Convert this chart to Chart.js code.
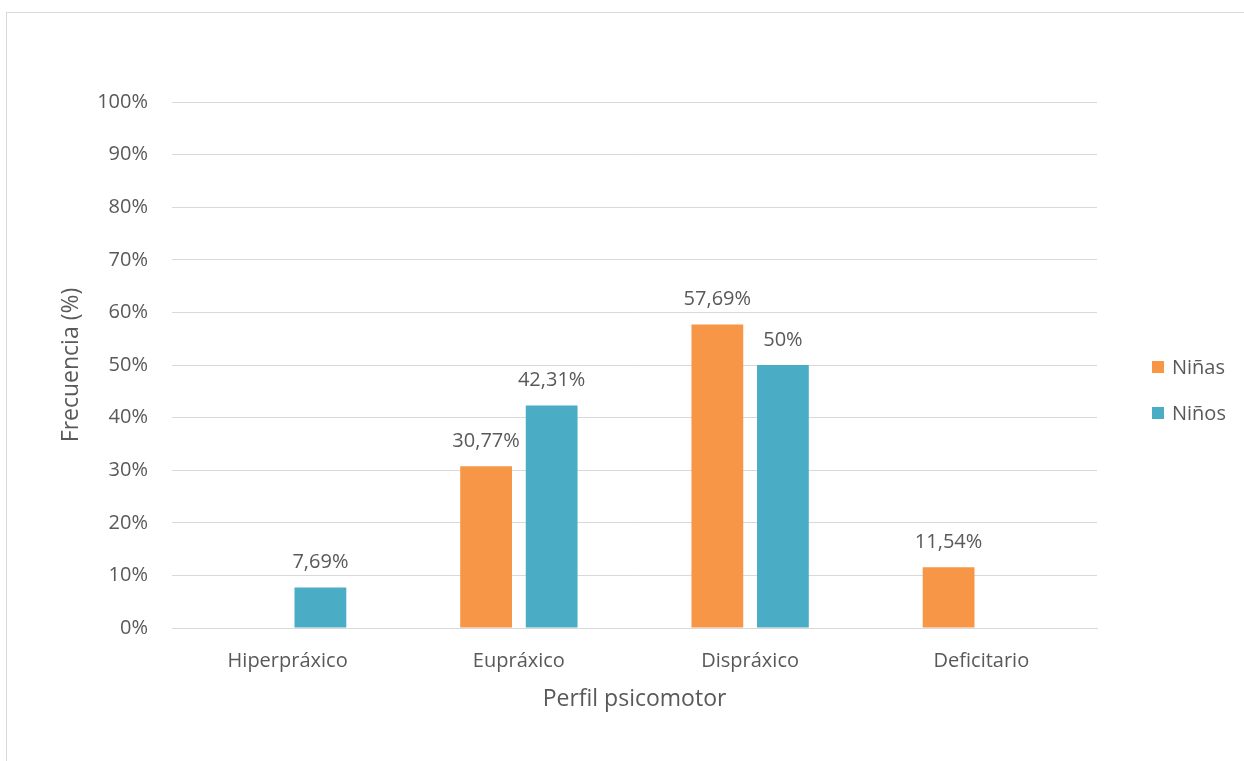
<!DOCTYPE html>
<html lang="es">
<head>
<meta charset="utf-8">
<title>Perfil psicomotor</title>
<script src="https://cdn.jsdelivr.net/npm/chart.js@4/dist/chart.umd.min.js"></script>
<style>
  html, body { margin: 0; padding: 0; background: #ffffff; overflow: hidden; }
  #frame {
    position: absolute; left: 6px; top: 12px;
    width: 1400px; height: 900px;
    border: 1px solid #d9d9d9; box-sizing: border-box;
  }
  #wrap { position: absolute; left: 0; top: 0; width: 1244px; height: 761px; }
</style>
</head>
<body>
<div id="frame"></div>
<div id="wrap"><canvas id="chart" width="1244" height="761"></canvas></div>
<script>
// Categories and series values (percent)
const categories = ['Hiperpráxico', 'Eupráxico', 'Dispráxico', 'Deficitario'];
const ninas = [null, 30.77, 57.69, 11.54];
const ninos = [7.69, 42.31, 50, null];
const seriesNames = ['Niñas', 'Niños'];
const yTicks = [0, 10, 20, 30, 40, 50, 60, 70, 80, 90, 100];

const TEXT = '#595959';
const FONT = '"Open Sans", "DejaVu Sans", sans-serif';

function fmt(v) {
  return String(v).replace('.', ',') + '%';
}

// Value labels above each bar
const valueLabels = {
  id: 'valueLabels',
  afterDatasetsDraw(chart) {
    const ctx = chart.ctx;
    ctx.save();
    ctx.fillStyle = TEXT;
    ctx.font = '20px ' + FONT;
    ctx.textAlign = 'center';
    ctx.textBaseline = 'middle';
    chart.data.datasets.forEach((ds, di) => {
      const meta = chart.getDatasetMeta(di);
      meta.data.forEach((bar, i) => {
        const v = ds.data[i];
        if (v === null || v === undefined) return;
        ctx.fillText(fmt(v), bar.x, bar.y - 25);
      });
    });
    ctx.restore();
  }
};

// Legend on the right: square swatch + series name
const sideLegend = {
  id: 'sideLegend',
  afterDraw(chart) {
    const ctx = chart.ctx;
    const x = chart.chartArea.right + 55;
    const y0 = chart.chartArea.top + 265;
    const gap = 46;
    ctx.save();
    ctx.font = '20px ' + FONT;
    ctx.textBaseline = 'middle';
    ctx.textAlign = 'left';
    chart.data.datasets.forEach((ds, i) => {
      const y = y0 + i * gap;
      ctx.fillStyle = ds.backgroundColor;
      ctx.fillRect(x, y - 6, 12, 12);
      ctx.fillStyle = TEXT;
      ctx.fillText(ds.label, x + 20, y + 1);
    });
    ctx.restore();
  }
};

new Chart(document.getElementById('chart'), {
  type: 'bar',
  data: {
    labels: categories,
    datasets: [
      { label: seriesNames[0], data: ninas, backgroundColor: '#f79646' },
      { label: seriesNames[1], data: ninos, backgroundColor: '#4bacc6' }
    ]
  },
  options: {
    responsive: false,
    animation: false,
    events: [],
    layout: { padding: { left: 0, top: 102, right: 147, bottom: 0 } },
    datasets: { bar: { categoryPercentage: 0.567, barPercentage: 0.79 } },
    plugins: { legend: { display: false }, tooltip: { enabled: false } },
    scales: {
      x: {
        grid: { display: false, drawTicks: false },
        border: { display: true, color: '#d9d9d9', width: 1 },
        ticks: { color: TEXT, font: { family: FONT, size: 20 }, padding: 21 },
        title: {
          display: true, text: 'Perfil psicomotor', color: TEXT,
          font: { family: FONT, size: 23 }, padding: { top: 0, bottom: 48 }
        },
        afterFit(s) { s.height = 133; }
      },
      y: {
        min: 0, max: 100,
        afterBuildTicks(s) { s.ticks = yTicks.map(v => ({ value: v })); },
        grid: { color: '#d9d9d9', lineWidth: 1, drawTicks: false },
        border: { display: false },
        ticks: {
          color: TEXT, font: { family: FONT, size: 20 }, padding: 24,
          callback: v => v + '%'
        },
        title: {
          display: true, text: 'Frecuencia (%)', color: TEXT,
          font: { family: FONT, size: 23 }, padding: { top: 58, bottom: 0 }
        },
        afterFit(s) { s.width = 172; }
      }
    }
  },
  plugins: [valueLabels, sideLegend]
});
</script>
</body>
</html>
